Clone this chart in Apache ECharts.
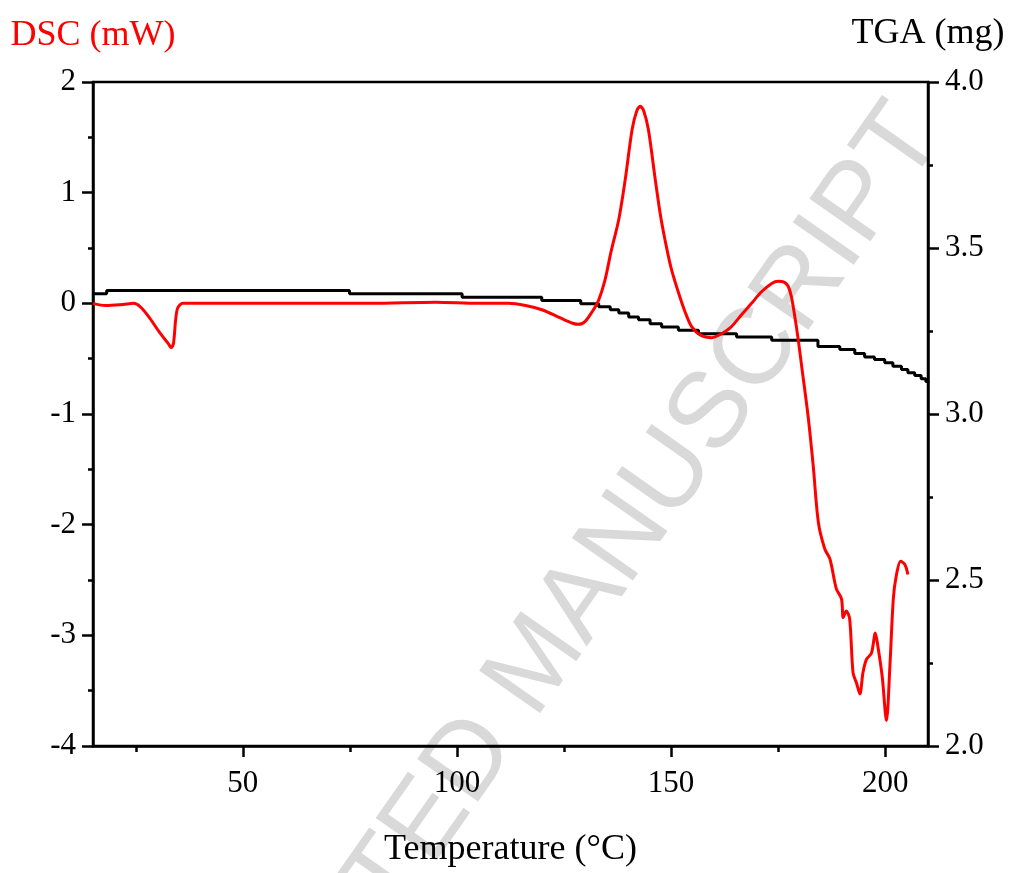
<!DOCTYPE html>
<html>
<head>
<meta charset="utf-8">
<script src="https://cdn.jsdelivr.net/npm/echarts@6/dist/echarts.min.js"></script>
<style>
html,body{margin:0;padding:0;background:#fff;}
#chart{width:1018px;height:873px;}
</style>
</head>
<body>
<div id="chart"></div>
<script>
// ---- Data ----
const dscTemp = [15, 18, 22, 24.5, 26, 28, 30.5, 32.5, 33.3, 33.8, 34.3, 34.8, 36, 40, 60, 80, 95, 105, 112, 116, 120, 124, 127, 128.5, 130, 131.5, 133, 134.5, 136, 137.8, 139.3, 140.9, 142.0, 142.8, 143.6, 144.7, 146.3, 147.5, 148.6, 150, 151.7, 153.3, 154.8, 157, 159.5, 162, 164.1, 166.5, 168.8, 171, 173.5, 175, 176.5, 177.4, 178.1, 178.9, 179.7, 180.5, 182, 183.2, 184.4, 185.9, 187.1, 188.6, 189.8, 190.2, 190.9, 191.7, 192.5, 193.3, 194.1, 194.8, 195.6, 196.8, 197.7, 198.3, 199.3, 200.3, 201.1, 201.9, 202.6, 203.6, 204.6, 205.3];
const dscValues = [0.0, -0.02, -0.01, 0.0, -0.03, -0.12, -0.26, -0.36, -0.40, -0.36, -0.15, -0.04, 0.0, 0.0, 0.0, 0.0, 0.01, 0.0, 0.0, -0.02, -0.06, -0.13, -0.18, -0.19, -0.16, -0.08, 0.02, 0.2, 0.47, 0.76, 1.12, 1.57, 1.74, 1.78, 1.74, 1.57, 1.12, 0.8, 0.57, 0.32, 0.10, -0.08, -0.21, -0.29, -0.31, -0.27, -0.21, -0.1, 0.0, 0.1, 0.18, 0.20, 0.19, 0.15, 0.06, -0.12, -0.33, -0.57, -1.02, -1.47, -1.98, -2.22, -2.31, -2.58, -2.67, -2.84, -2.78, -2.85, -3.34, -3.43, -3.53, -3.34, -3.22, -3.16, -2.98, -3.10, -3.37, -3.77, -3.28, -2.67, -2.46, -2.33, -2.36, -2.45];

const tgaTemp = [15, 18.2, 74.9, 101.2, 119.8, 128.9, 133.1, 135.8, 137.8, 140.1, 142.4, 145.1, 147.8, 151.7, 156.4, 165.3, 173.5, 184.3, 189.4, 192.9, 195.2, 197.5, 199.9, 201.8, 203.8, 205.3, 206.9, 208.4, 209.5, 210];
const tgaValues = [3.362, 3.372, 3.362, 3.352, 3.342, 3.332, 3.323, 3.314, 3.304, 3.292, 3.284, 3.272, 3.262, 3.252, 3.242, 3.232, 3.222, 3.203, 3.194, 3.182, 3.172, 3.164, 3.154, 3.144, 3.134, 3.124, 3.116, 3.106, 3.098, 3.095];

const xMajorTicks = [50, 100, 150, 200];
const xMinorTicks = [25, 75, 125, 175];

const xTitle = 'Temperature (°C)';
const dscTitle = 'DSC (mW)';
const tgaTitle = 'TGA (mg)';
const watermarkText = 'ACCEPTED MANUSCRIPT';

// ---- Chart ----
const serif = '"Liberation Serif", "Times New Roman", serif';
const dscData = dscTemp.map((t, i) => [t, dscValues[i]]);
const tgaData = tgaTemp.map((t, i) => [t, tgaValues[i]]);
const lineBlack = { color: '#000', width: 2.5 };

const chart = echarts.init(document.getElementById('chart'), null, { renderer: 'canvas' });
chart.setOption({
  animation: false,
  backgroundColor: '#fff',
  graphic: [{
    type: 'text',
    x: 538, y: 664,
    rotation: 55 * Math.PI / 180,
    z: -10,
    silent: true,
    style: {
      text: watermarkText,
      x: 0, y: 0,
      font: '108px "Liberation Sans", Arial, sans-serif',
      fill: '#d9d9d9',
      textAlign: 'center',
      textVerticalAlign: 'middle'
    }
  }],
  grid: {
    left: 93, right: 90, top: 82, bottom: 126,
    show: true, borderColor: '#000', borderWidth: 2.5, backgroundColor: 'transparent',
    containLabel: false
  },
  xAxis: [{
    type: 'value', min: 15, max: 210, position: 'bottom',
    minInterval: 50, maxInterval: 50,
    axisLine: { show: true, onZero: false, lineStyle: lineBlack },
    axisTick: { show: true, inside: false, length: 11, lineStyle: lineBlack, customValues: xMajorTicks },
    axisLabel: { customValues: xMajorTicks, fontFamily: serif, fontSize: 31, color: '#000', margin: 22 },
    splitLine: { show: false },
    name: xTitle, nameLocation: 'middle', nameGap: 86,
    nameTextStyle: { fontFamily: serif, fontSize: 36, color: '#000' }
  }, {
    type: 'value', min: 15, max: 210, position: 'bottom',
    minInterval: 25, maxInterval: 25,
    axisLine: { show: false, onZero: false },
    axisTick: { show: true, inside: false, length: 6, lineStyle: lineBlack, customValues: xMinorTicks },
    axisLabel: { show: false },
    splitLine: { show: false }
  }],
  yAxis: [{
    type: 'value', min: -4, max: 2, interval: 1, position: 'left',
    axisLine: { show: true, onZero: false, lineStyle: lineBlack },
    axisTick: { show: true, inside: false, length: 11, lineStyle: lineBlack },
    minorTick: { show: true, splitNumber: 2, length: 5, lineStyle: lineBlack },
    axisLabel: { fontFamily: serif, fontSize: 31, color: '#000', margin: 17 },
    splitLine: { show: false },
    minorSplitLine: { show: false },
    name: dscTitle, nameLocation: 'end', nameGap: 28,
    nameTextStyle: { fontFamily: serif, fontSize: 36, color: '#ff0000', align: 'center' }
  }, {
    type: 'value', min: 2, max: 4, interval: 0.5, position: 'right',
    axisLine: { show: true, onZero: false, lineStyle: lineBlack },
    axisTick: { show: true, inside: false, length: 11, lineStyle: lineBlack },
    minorTick: { show: true, splitNumber: 2, length: 5, lineStyle: lineBlack },
    axisLabel: { fontFamily: serif, fontSize: 31, color: '#000', margin: 17, formatter: v => v.toFixed(1) },
    splitLine: { show: false },
    minorSplitLine: { show: false },
    name: tgaTitle, nameLocation: 'end', nameGap: 30,
    nameTextStyle: { fontFamily: serif, fontSize: 36, color: '#000', align: 'center' }
  }],
  series: [{
    name: 'TGA', type: 'line', xAxisIndex: 0, yAxisIndex: 1,
    data: tgaData, step: 'end', showSymbol: false,
    lineStyle: { color: '#000', width: 3 }, z: 2
  }, {
    name: 'DSC', type: 'line', xAxisIndex: 0, yAxisIndex: 0,
    data: dscData, smooth: 0.3, showSymbol: false,
    lineStyle: { color: '#ff0000', width: 3 }, z: 3
  }]
});
</script>
</body>
</html>
